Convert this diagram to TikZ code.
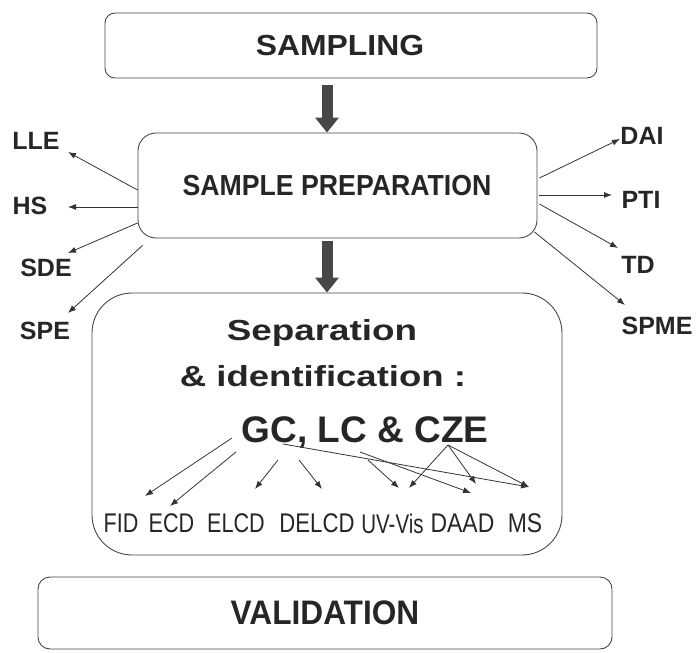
\documentclass[tikz,border=0pt]{standalone}
\usepackage{fontspec}
\setmainfont{Liberation Sans}
\usetikzlibrary{arrows.meta}
\newcommand{\hstr}[2]{\scalebox{#1}[1]{#2}}
\newcommand{\fsz}[1]{\fontsize{#1}{#1}\selectfont}
\begin{document}
\begin{tikzpicture}[x=1pt,y=-1pt,
 box/.style={draw=black!72,line width=0.9pt,inner sep=0pt},
 title/.style={font=\bfseries,text=black!85,inner sep=0pt},
 side/.style={font=\bfseries\fsz{25},text=black!85,inner sep=0pt},
 det/.style={font=\fsz{27},text=black!85,inner sep=0pt},
 thinarr/.style={draw=black!80,line width=0.8pt,-{Latex[length=8pt,width=6pt]}},
 bigarr/.style={draw=black!72,line width=11pt,-{Triangle[length=15pt,width=23pt]}},
]
\useasboundingbox (0,0) rectangle (697,653);
% boxes
\node[box,rounded corners=10pt,minimum width=492pt,minimum height=65pt] (samp) at (351,45.5) {};
\node[box,rounded corners=18pt,minimum width=399pt,minimum height=105pt] (prep) at (337.5,185.5) {};
\node[box,rounded corners=40pt,minimum width=470pt,minimum height=262pt] (sep) at (327,424) {};
\node[box,rounded corners=12pt,minimum width=574pt,minimum height=72pt] (val) at (325,613) {};
% box texts
\node[title,font=\bfseries\fsz{29}] (samptxt) at (340,46) {\hstr{1.1}{SAMPLING}};
\node[title,font=\bfseries\fsz{29}] (preptxt) at (337,186) {\hstr{0.92}{SAMPLE PREPARATION}};
\node[title,font=\bfseries\fsz{29}] (septxt) at (322,333) {\hstr{1.27}{Separation}};
\node[title,font=\bfseries\fsz{29}] (idtxt) at (323,376) {\hstr{1.26}{\& identification :}};
\node[title,font=\bfseries\fsz{37}] (gc) at (365,432) {GC, LC \& CZE};
\node[title,font=\bfseries\fsz{34}] (valtxt) at (325,613) {\hstr{0.93}{VALIDATION}};
% big arrows
\draw[bigarr] ([shift={(-24,7)}]samp.south) -- ([shift={(-10.5,0)}]prep.north);
\draw[bigarr] ([shift={(-10.5,3)}]prep.south) -- (sep.north);
% side labels
\node[side] (lle) at (36,141) {LLE};
\node[side] (hs) at (30,206) {HS};
\node[side] (sde) at (46,268) {SDE};
\node[side] (spe) at (45,331) {SPE};
\node[side] (dai) at (642,136) {DAI};
\node[side] (pti) at (641,200) {PTI};
\node[side] (td) at (638,265) {TD};
\node[side] (spme) at (657,326) {SPME};
\draw[thinarr] ([shift={(0,4.5)}]prep.west) -- ([shift={(32,11)}]lle.center);
\draw[thinarr] ([shift={(0,21.5)}]prep.west) -- ([shift={(38,1)}]hs.center);
\draw[thinarr] ([shift={(0,37.5)}]prep.west) -- ([shift={(22,-15)}]sde.center);
\draw[thinarr] ([shift={(5,7)}]prep.south west) -- ([shift={(23,-18)}]spe.center);
\draw[thinarr] ([shift={(2,-7.5)}]prep.east) -- ([shift={(-22,3)}]dai.center);
\draw[thinarr] ([shift={(2,9.5)}]prep.east) -- ([shift={(-29,-5)}]pti.center);
\draw[thinarr] ([shift={(2,18.5)}]prep.east) -- ([shift={(-20,-17)}]td.center);
\draw[thinarr] ([shift={(-3,46.5)}]prep.east) -- ([shift={(-32,-21)}]spme.center);
% detectors
\node[det] (fid) at (121,523.5) {\hstr{0.8}{FID}};
\node[det] (ecd) at (171.5,523.5) {\hstr{0.8}{ECD}};
\node[det] (elcd) at (236,523.5) {\hstr{0.8}{ELCD}};
\node[det] (delcd) at (317,523.5) {\hstr{0.82}{DELCD}};
\node[det] (uv) at (392.5,523.5) {\hstr{0.76}{UV-Vis}};
\node[det] (daad) at (462.5,523.5) {\hstr{0.85}{DAAD}};
\node[det] (ms) at (525,523.5) {\hstr{0.85}{MS}};
\draw[thinarr] ([shift={(-133,6)}]gc.center) -- ([shift={(24,-27.5)}]fid.center);
\draw[thinarr] ([shift={(-129,20)}]gc.center) -- ([shift={(-1.5,-17.5)}]ecd.center);
\draw[thinarr] ([shift={(-87,28)}]gc.center) -- ([shift={(19,-34.5)}]elcd.center);
\draw[thinarr] ([shift={(-66,28)}]gc.center) -- ([shift={(5,-34.5)}]delcd.center);
\draw[thinarr] ([shift={(-82,12)}]gc.center) -- ([shift={(4,-36.5)}]ms.center);
\draw[thinarr] ([shift={(-5,20)}]gc.center) -- ([shift={(8.5,-30.5)}]daad.center);
\draw[thinarr] ([shift={(3,28)}]gc.center) -- ([shift={(6.5,-35.5)}]uv.center);
\draw[thinarr] ([shift={(83,13)}]gc.center) -- ([shift={(16.5,-35.5)}]uv.center);
\draw[thinarr] ([shift={(83,13)}]gc.center) -- ([shift={(13.5,-39.5)}]daad.center);
\draw[thinarr] ([shift={(83,13)}]gc.center) -- ([shift={(4,-36.5)}]ms.center);
\end{tikzpicture}
\end{document}
